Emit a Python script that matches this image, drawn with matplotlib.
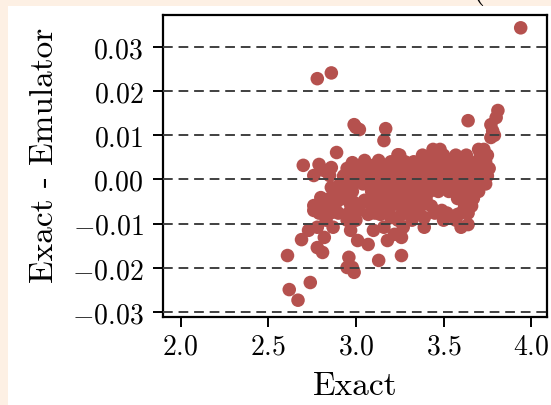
import numpy as np
import matplotlib
matplotlib.use("Agg")
import matplotlib.pyplot as plt
from matplotlib.patches import Rectangle

plt.rcParams['font.family'] = ['cmr10', 'DejaVu Serif']
plt.rcParams['mathtext.fontset'] = 'cm'
plt.rcParams['axes.formatter.use_mathtext'] = True

# scattered points (Exact, Exact - Emulator)
outlier_x = [3.94, 2.78, 2.86, 2.99, 3.02, 3.00, 3.17, 3.16, 3.64,
             3.81, 3.80, 3.77, 3.79, 3.77, 3.78, 2.89, 2.70, 2.79, 2.86,
             2.82, 2.76, 2.85, 3.24, 2.98, 3.05, 3.13, 3.01, 3.09, 3.14,
             2.97, 3.03, 3.11, 3.17]
outlier_y = [0.0343, 0.0228, 0.0241, 0.0124, 0.0113, 0.0118, 0.0115, 0.0088, 0.0133,
             0.0156, 0.0140, 0.0124, 0.0100, 0.0095, 0.0110, 0.0061, 0.0032, 0.0034, 0.0027,
             0.0020, 0.0009, 0.0009, 0.0056, 0.0038, 0.0043, 0.0043, 0.0020, 0.0020, 0.0020,
             0.0000, 0.0000, 0.0000, 0.0000]

lower_x = [2.92, 2.95, 2.80, 2.76, 2.84, 2.90, 2.97, 3.05, 3.13, 3.16, 2.95, 3.07, 3.14,
           2.76, 2.86, 2.97, 3.09, 3.20,
           2.73, 2.69, 2.78, 2.82, 2.87, 2.78, 2.81, 2.61,
           2.96, 2.98, 2.95, 2.99, 2.97, 3.10, 3.01, 3.07, 3.16, 3.18,
           3.13, 2.74, 2.62, 2.67,
           3.26, 3.27, 3.22, 3.26, 3.39, 3.39, 3.49, 3.58, 3.60, 3.64, 3.26]
lower_y = [-0.0018, -0.0034, -0.0041, -0.0059, -0.0063, -0.0047, -0.0057, -0.0047, -0.0041,
           -0.0063, -0.0079, -0.0079, -0.0079,
           -0.0070, -0.0075, -0.0070, -0.0075, -0.0086,
           -0.0115, -0.0136, -0.0108, -0.0131, -0.0108, -0.0154, -0.0165, -0.0172,
           -0.0176, -0.0199, -0.0199, -0.0210, -0.0115, -0.0115, -0.0138, -0.0147, -0.0108, -0.0138,
           -0.0183, -0.0233, -0.0249, -0.0273,
           -0.0079, -0.0108, -0.0124, -0.0131, -0.0086, -0.0108, -0.0070, -0.0079, -0.0108,
           -0.0102, -0.0172]

# dense body, row by row
body_rows = {
    0.0068: [3.44, 3.48, 3.70, 3.73],
    0.0055: [3.25, 3.38, 3.43, 3.50, 3.57, 3.63, 3.71, 3.75],
    0.0040: [3.20, 3.28, 3.33, 3.40, 3.46, 3.52, 3.58, 3.64, 3.69, 3.74],
    0.0032: [3.10, 3.24, 3.35, 3.44, 3.55, 3.66],
    0.0025: [2.95, 3.04, 3.18, 3.22, 3.27, 3.31, 3.36, 3.41, 3.47, 3.53, 3.58, 3.62,
             3.67, 3.72, 3.76],
    0.0014: [2.96, 3.08, 3.16, 3.32, 3.48, 3.64],
    0.0008: [2.93, 3.00, 3.06, 3.13, 3.19, 3.24, 3.29, 3.35, 3.40, 3.45, 3.51, 3.56,
             3.61, 3.66, 3.70, 3.75],
    -0.0010: [2.91, 2.98, 3.04, 3.09, 3.15, 3.21, 3.26, 3.32, 3.37, 3.43, 3.49, 3.54,
              3.59, 3.64, 3.69, 3.74],
    -0.0018: [2.86, 3.12, 3.28, 3.45, 3.57, 3.67],
    -0.0027: [2.88, 2.98, 3.09, 3.14, 3.19, 3.25, 3.30, 3.36, 3.42, 3.47, 3.53, 3.60,
              3.65, 3.70],
    -0.0043: [2.85, 2.93, 3.10, 3.18, 3.23, 3.28, 3.34, 3.40, 3.58, 3.63, 3.67],
    -0.0052: [2.83, 2.99, 3.14, 3.25, 3.40],
    -0.0060: [2.80, 2.88, 3.02, 3.09, 3.20, 3.26, 3.31, 3.37, 3.43, 3.62, 3.66],
    -0.0076: [2.79, 2.90, 3.00, 3.11, 3.19, 3.30, 3.35, 3.45, 3.52, 3.60, 3.64],
    -0.0092: [2.83, 2.95, 3.00, 3.24, 3.32, 3.50, 3.57],
}

body_x = [x for y, xs in body_rows.items() for x in xs]
body_y = [y for y, xs in body_rows.items() for x in xs]

exact = np.array(outlier_x + lower_x + body_x)
diff = np.array(outlier_y + lower_y + body_y)

yticks = [-0.03, -0.02, -0.01, 0.0, 0.01, 0.02, 0.03]
xticks = [2.0, 2.5, 3.0, 3.5, 4.0]

fig = plt.figure(figsize=(5.51, 4.06), dpi=100, facecolor='#fdf0e4')
fig.patches.append(Rectangle((8 / 551, 0), 1, 1 - 7 / 406, transform=fig.transFigure,
                             facecolor='white', edgecolor='none', zorder=-10))
fig.text(478 / 551, 1 + 2 / 406, '(', fontsize=24, ha='center', va='baseline')

ax = fig.add_axes([163 / 551, 88 / 406, 384 / 551, 302 / 406])
ax.set_zorder(1)
ax.scatter(exact, diff, s=95, color='#b5514e', edgecolors='none', zorder=2)

for yt in yticks:
    ax.axhline(yt, color='0.25', linestyle=(0, (5, 3)), linewidth=1.4, zorder=3)

ax.set_xlim(1.90, 4.09)
ax.set_ylim(-0.0311, 0.0372)
ax.set_xticks(xticks)
ax.set_yticks(yticks)
ax.tick_params(direction='out', length=7, width=1.4, labelsize=20)
ax.tick_params(axis='y', pad=7)
ax.tick_params(axis='x', pad=5)
for sp in ax.spines.values():
    sp.set_linewidth(1.6)

ax.set_xlabel('Exact', fontsize=24)
ax.set_ylabel('Exact - Emulator', fontsize=24)
ax.xaxis.set_label_coords(0.5, -0.18)
ax.yaxis.set_label_coords(-0.27, 0.54)

fig.savefig('out.png', dpi=100, facecolor=fig.get_facecolor())
